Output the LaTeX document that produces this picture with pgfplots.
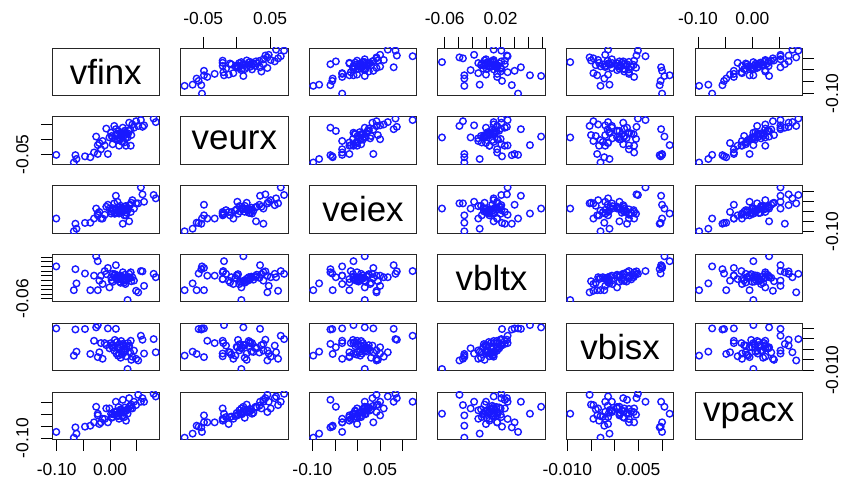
\documentclass[border=0pt]{standalone}
\usepackage{pgfplots}
\pgfplotsset{compat=1.18}
\usepackage{pgfplotstable}
\usepackage{fontspec}
\setmainfont{Liberation Sans}

\pgfplotstableread{
vfinx veurx veiex vbltx vbisx vpacx
-0.101 -0.052 -0.034 0.045 0.0100 -0.074
-0.068 -0.078 -0.098 -0.032 -0.0030 -0.098
-0.065 -0.053 -0.060 0.036 0.0095 -0.055
-0.063 -0.066 -0.085 -0.010 -0.0011 -0.081
-0.047 -0.057 -0.056 0.022 0.0097 -0.052
-0.037 -0.060 -0.055 -0.032 -0.0022 -0.048
-0.030 -0.044 -0.034 0.015 0.0041 -0.034
-0.026 0.010 0.016 0.078 0.0105 0.031
-0.023 -0.049 -0.018 -0.032 -0.0037 -0.005
-0.023 -0.019 -0.009 0.062 0.0116 0.002
-0.020 -0.012 -0.001 -0.001 -0.0014 -0.041
-0.017 -0.033 -0.034 0.015 0.0030 -0.034
-0.014 -0.005 -0.034 -0.012 -0.0045 -0.019
-0.007 0.037 0.025 0.020 0.0020 0.024
-0.004 -0.049 0.035 0.040 0.0100 -0.034
-0.001 0.007 0.016 -0.023 0.0005 0.024
0.002 0.023 -0.009 0.010 0.0030 0.002
0.005 -0.016 0.008 0.021 0.0018 -0.012
0.008 0.046 0.042 0.015 -0.0006 0.009
0.011 0.035 0.080 0.049 0.0098 0.052
0.014 0.001 0.050 0.015 0.0010 -0.005
0.017 -0.021 -0.009 0.004 -0.0020 -0.019
0.021 0.018 0.008 0.010 0.0040 0.009
0.024 0.040 -0.060 0.026 0.0026 0.060
0.027 -0.010 -0.018 -0.007 -0.0014 -0.012
0.030 -0.021 -0.018 0.004 -0.0033 -0.027
0.033 0.007 0.016 -0.064 -0.0094 0.002
0.036 0.029 -0.048 0.010 0.0010 0.031
0.036 0.057 0.033 0.021 0.0018 0.067
0.039 -0.021 -0.001 0.026 0.0041 0.024
0.042 0.051 0.058 0.010 -0.0035 0.024
0.045 0.040 0.016 -0.001 -0.0006 0.052
0.049 0.062 0.042 -0.034 -0.0045 0.038
0.053 0.046 0.042 -0.039 -0.0053 0.081
0.058 0.066 0.122 0.030 0.0065 0.052
0.061 0.043 0.087 0.029 0.0046 0.067
0.064 0.048 0.050 -0.018 -0.0020 0.052
0.082 0.071 0.084 0.021 0.0049 0.085
0.086 0.059 0.067 0.010 -0.0014 0.074
0.012 0.015 0.010 0.005 -0.0020 0.010
0.018 0.005 0.002 -0.004 0.0025 0.004
0.022 0.022 0.020 0.012 -0.0010 0.018
0.025 0.010 0.015 -0.002 0.0020 0.012
0.028 0.030 0.025 0.018 0.0005 0.028
0.015 -0.002 0.006 0.008 -0.0030 -0.008
0.031 0.018 -0.005 0.000 0.0015 0.015
0.020 0.012 0.030 -0.008 -0.0040 0.020
0.009 0.002 -0.010 0.020 0.0045 -0.002
0.026 0.025 0.005 0.002 -0.0012 0.006
0.034 0.020 0.012 0.006 0.0030 0.022
0.005 0.008 0.018 -0.005 0.0010 0.000
0.016 0.028 0.022 0.014 0.0005 0.030
0.023 -0.008 -0.002 0.010 -0.0025 -0.010
0.029 0.004 0.028 -0.012 -0.0005 0.016
0.013 0.020 -0.006 0.003 0.0035 0.012
0.038 0.034 0.035 0.008 -0.0015 0.035
0.019 0.000 0.012 0.016 0.0012 0.005
-0.010 -0.020 -0.015 0.030 0.0030 -0.020
0.040 0.015 0.045 -0.003 -0.0050 0.040
0.003 0.012 0.000 0.000 0.0020 -0.015
}\data

\pgfplotsset{
  xr vfinx/.style={xmin=-0.109,xmax=0.093},
  yr vfinx/.style={ymin=-0.109,ymax=0.093},
  xr veurx/.style={xmin=-0.084,xmax=0.077},
  yr veurx/.style={ymin=-0.084,ymax=0.077},
  xr veiex/.style={xmin=-0.107,xmax=0.131},
  yr veiex/.style={ymin=-0.107,ymax=0.131},
  xr vbltx/.style={xmin=-0.070,xmax=0.084},
  yr vbltx/.style={ymin=-0.070,ymax=0.084},
  xr vbisx/.style={xmin=-0.0102,xmax=0.0125},
  yr vbisx/.style={ymin=-0.0102,ymax=0.0125},
  xr vpacx/.style={xmin=-0.1056,xmax=0.0926},
  yr vpacx/.style={ymin=-0.1056,ymax=0.0926},
  panel/.style={
    scale only axis, width=107.5bp, height=47.5bp, anchor=south west,
    xtick=\empty, ytick=\empty, scaled ticks=false,
    axis line style={line width=0.9bp, black!85},
    tick align=outside, major tick length=11bp,
    tick style={black, line width=0.8bp},
    tick label style={font=\fontsize{17.5}{17.5}\selectfont},
    xticklabel shift=9bp, yticklabel shift=9bp,
    clip marker paths=true,
  },
  topx/.style={xtick pos=upper, xticklabel pos=upper},
  botx/.style={xtick pos=lower, xticklabel pos=lower},
  lefty/.style={ytick pos=lower, yticklabel pos=lower, yticklabel style={rotate=90, anchor=south}},
  righty/.style={ytick pos=upper, yticklabel pos=upper, yticklabel style={rotate=90, anchor=north}},
  pts/.style={only marks, mark=o, mark size=3.3bp, mark options={line width=1.4bp, draw=blue!90!white}, blue},
}

\newcommand{\panel}[5]{%
\begin{axis}[panel, at={({52bp+128.6bp*(#1-1)},{390.5bp-68.8bp*(#2-1)})}, xr #3, yr #4, #5]
\addplot[pts] table[x=#3,y=#4]{\data};
\end{axis}}

\newcommand{\diagpanel}[2]{%
\begin{axis}[panel, at={({52bp+128.6bp*(#1-1)},{390.5bp-68.8bp*(#1-1)})}, xmin=0, xmax=1, ymin=0, ymax=1]
\node at (axis cs:0.5,0.5) {\fontsize{35}{40}\selectfont #2};
\end{axis}}

\begin{document}
\begin{tikzpicture}
\path[use as bounding box] (0,0) rectangle (845bp,486bp);
% row 1 (vfinx)
\diagpanel{1}{vfinx}
\panel{2}{1}{veurx}{vfinx}{topx, xtick={-0.05,0,0.05}, xticklabels={-0.05,,0.05}}
\panel{3}{1}{veiex}{vfinx}{}
\panel{4}{1}{vbltx}{vfinx}{topx, xtick={-0.06,-0.04,-0.02,0,0.02,0.04,0.06,0.08}, xticklabels={-0.06,,,,0.02,,,}}
\panel{5}{1}{vbisx}{vfinx}{}
\panel{6}{1}{vpacx}{vfinx}{topx, xtick={-0.10,-0.05,0,0.05}, xticklabels={-0.10,,0.00,}, righty, ytick={-0.10,-0.05,0,0.05}, yticklabels={-0.10,,,}}
% row 2 (veurx)
\panel{1}{2}{vfinx}{veurx}{lefty, ytick={-0.05,0,0.05}, yticklabels={-0.05,,}}
\diagpanel{2}{veurx}
\panel{3}{2}{veiex}{veurx}{}
\panel{4}{2}{vbltx}{veurx}{}
\panel{5}{2}{vbisx}{veurx}{}
\panel{6}{2}{vpacx}{veurx}{}
% row 3 (veiex)
\panel{1}{3}{vfinx}{veiex}{}
\panel{2}{3}{veurx}{veiex}{}
\diagpanel{3}{veiex}
\panel{4}{3}{vbltx}{veiex}{}
\panel{5}{3}{vbisx}{veiex}{}
\panel{6}{3}{vpacx}{veiex}{righty, ytick={-0.10,-0.05,0,0.05,0.10}, yticklabels={-0.10,,,,}}
% row 4 (vbltx)
\panel{1}{4}{vfinx}{vbltx}{lefty, ytick={-0.06,-0.045,-0.03,-0.015,0,0.015,0.03,0.045,0.06,0.075}, yticklabels={-0.06,,,,,,,,,}}
\panel{2}{4}{veurx}{vbltx}{}
\panel{3}{4}{veiex}{vbltx}{}
\diagpanel{4}{vbltx}
\panel{5}{4}{vbisx}{vbltx}{}
\panel{6}{4}{vpacx}{vbltx}{}
% row 5 (vbisx)
\panel{1}{5}{vfinx}{vbisx}{}
\panel{2}{5}{veurx}{vbisx}{}
\panel{3}{5}{veiex}{vbisx}{}
\panel{4}{5}{vbltx}{vbisx}{}
\diagpanel{5}{vbisx}
\panel{6}{5}{vpacx}{vbisx}{righty, ytick={-0.010,-0.005,0,0.005,0.010}, yticklabels={-0.010,,,,}}
% row 6 (vpacx)
\panel{1}{6}{vfinx}{vpacx}{botx, xtick={-0.10,-0.05,0,0.05}, xticklabels={-0.10,,0.00,}, lefty, ytick={-0.10,-0.05,0,0.05}, yticklabels={-0.10,,,}}
\panel{2}{6}{veurx}{vpacx}{}
\panel{3}{6}{veiex}{vpacx}{botx, xtick={-0.10,-0.05,0,0.05,0.10}, xticklabels={-0.10,,,0.05,}}
\panel{4}{6}{vbltx}{vpacx}{}
\panel{5}{6}{vbisx}{vpacx}{botx, xtick={-0.010,-0.005,0,0.005,0.010}, xticklabels={-0.010,,,0.005,}}
\diagpanel{6}{vpacx}
\end{tikzpicture}
\end{document}
